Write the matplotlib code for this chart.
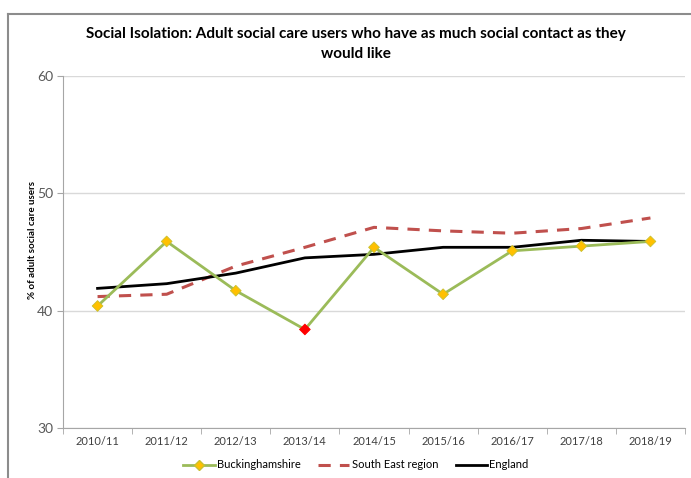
import matplotlib
matplotlib.use("Agg")
import matplotlib.pyplot as plt
from matplotlib.lines import Line2D

years = ["2010/11", "2011/12", "2012/13", "2013/14", "2014/15",
         "2015/16", "2016/17", "2017/18", "2018/19"]
bucks = [40.4, 45.9, 41.7, 38.4, 45.4, 41.4, 45.1, 45.5, 45.9]
south_east = [41.2, 41.4, 43.8, 45.4, 47.1, 46.8, 46.6, 47.0, 47.9]
england = [41.9, 42.3, 43.2, 44.5, 44.8, 45.4, 45.4, 46.0, 45.9]
red_point = 3  # 2013/14 highlighted

plt.rcParams['font.family'] = ['Lato', 'DejaVu Sans']

fig = plt.figure(figsize=(6.91, 4.78), dpi=100)
ax = fig.add_axes([63/691, 1-428/478, (685-63)/691, (428-76)/478])

xx = list(range(len(years)))

ax.plot(xx, south_east, color='#c0504d', lw=2.2, dashes=(4, 3), zorder=3)
ax.plot(xx, england, color='black', lw=2, zorder=4)
ax.plot(xx, bucks, color='#9bbb59', lw=2, zorder=5)
cols = ['#ff0000' if i == red_point else '#ffc000' for i in xx]
edges = ['#ff0000' if i == red_point else '#c8c030' for i in xx]
ax.scatter(xx, bucks, marker='D', s=30, c=cols, edgecolors=edges, linewidths=0.6, zorder=6)

ax.set_xlim(-0.5, len(years)-0.5)
ax.set_ylim(30, 60)
ax.set_yticks([30, 40, 50, 60])
ax.set_xticks(xx)
ax.set_xticklabels(years)
ax.set_xticks([i+0.5 for i in range(-1, len(years))], minor=True)
ax.tick_params(axis='x', which='major', length=0, labelsize=8, colors='#404040', pad=6)
ax.tick_params(axis='x', which='minor', length=4, color='#a6a6a6', direction='out')
ax.tick_params(axis='y', length=4, color='#a6a6a6', labelsize=10, labelcolor='#595959', pad=3)
ax.grid(axis='y', color='#d9d9d9', lw=1)
ax.set_axisbelow(True)
for s in ['top', 'right']:
    ax.spines[s].set_visible(False)
ax.spines['left'].set_color('#a6a6a6')
ax.spines['bottom'].set_color('#a6a6a6')
ax.set_ylabel('% of adult social care users', fontsize=7, fontweight='bold')
ax.yaxis.set_label_coords(-26/622, (428-240)/352)

fig.text(356/691, 1-44/478, 'Social Isolation: Adult social care users who have as much social contact as they\nwould like',
         ha='center', va='center', fontsize=11, fontweight='bold', linespacing=1.55)

handles = [
    Line2D([], [], color='#9bbb59', lw=2, marker='D', markersize=5,
           markerfacecolor='#ffc000', markeredgecolor='#c8c030'),
    Line2D([], [], color='#c0504d', lw=2.2, dashes=(4, 3)),
    Line2D([], [], color='black', lw=2),
]
fig.legend(handles, ['Buckinghamshire', 'South East region', 'England'],
           loc='center', bbox_to_anchor=(356/691, 1-465/478), ncol=3, frameon=False,
           fontsize=8, handlelength=2.8, columnspacing=1.6, handletextpad=0.2)

# outer frame lines
fig.add_artist(Line2D([8/691, 8/691], [0, 1-14/478], transform=fig.transFigure, color='#8c8c8c', lw=1.5))
fig.add_artist(Line2D([8/691, 1], [1-14/478, 1-14/478], transform=fig.transFigure, color='#8c8c8c', lw=1.5))

fig.savefig('out.png', dpi=100)
